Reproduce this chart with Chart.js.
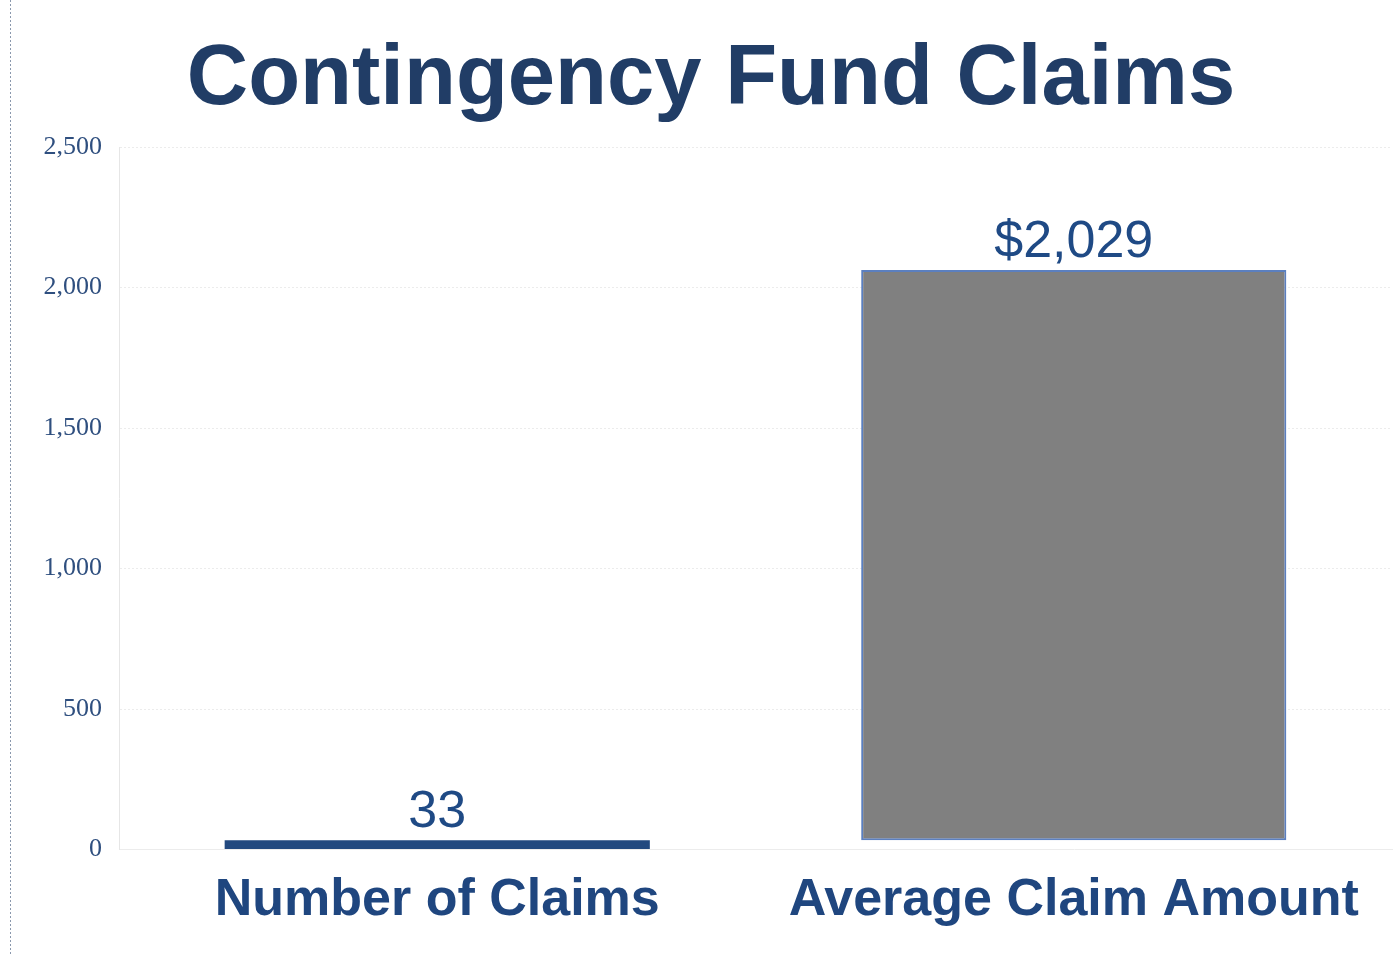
<!DOCTYPE html>
<html>
<head>
<meta charset="utf-8">
<script src="https://cdn.jsdelivr.net/npm/chart.js@4.4.1/dist/chart.umd.min.js"></script>
<style>
  html, body { margin: 0; padding: 0; background: #ffffff; }
  #wrap { width: 1393px; height: 956px; position: relative; }
</style>
</head>
<body>
<div id="wrap"><canvas id="c" width="1393" height="956"></canvas></div>
<script>
// ---- data ----
const categories = ['Number of Claims', 'Average Claim Amount'];
const values = [33, 2029];
const valueLabels = ['33', '$2,029'];
const yTicks = [0, 500, 1000, 1500, 2000, 2500];
const titleText = 'Contingency Fund Claims';

// waterfall-style floating bars: second bar starts where the first ends
const floating = [];
let run = 0;
for (let i = 0; i < values.length; i++) {
  const base = i === 0 ? 0 : run;
  floating.push([base, base + values[i]]);
  run = i === 0 ? values[i] : run;
}

const leftRule = {
  id: 'leftRule',
  beforeDraw(chart) {
    const ctx = chart.ctx;
    ctx.save();
    ctx.strokeStyle = '#8a98ad';
    ctx.lineWidth = 1;
    ctx.setLineDash([2, 2]);
    ctx.beginPath();
    ctx.moveTo(10.5, 0);
    ctx.lineTo(10.5, chart.height);
    ctx.stroke();
    ctx.restore();
  }
};

const valueLabelPlugin = {
  id: 'valueLabels',
  afterDatasetsDraw(chart) {
    const ctx = chart.ctx;
    const meta = chart.getDatasetMeta(0);
    ctx.save();
    ctx.font = '52px "Liberation Sans", Arial, sans-serif';
    ctx.fillStyle = '#1f4a85';
    ctx.textAlign = 'center';
    ctx.textBaseline = 'alphabetic';
    meta.data.forEach((bar, i) => {
      ctx.fillText(valueLabels[i], bar.x, bar.y - 13);
    });
    ctx.restore();
  }
};

new Chart(document.getElementById('c'), {
  type: 'bar',
  data: {
    labels: categories,
    datasets: [{
      data: floating,
      backgroundColor: ['#22497f', '#808080'],
      borderColor: ['#2a5490', '#5b7fbf'],
      borderWidth: [0, 2],
      borderSkipped: false,
      categoryPercentage: 1,
      barPercentage: 0.668
    }]
  },
  options: {
    responsive: false,
    animation: false,
    devicePixelRatio: 1,
    layout: { padding: { left: 30, right: 1, top: 0, bottom: 4 } },
    plugins: {
      legend: { display: false },
      tooltip: { enabled: false },
      title: {
        display: true,
        text: titleText,
        color: '#213d66',
        font: { family: '"Liberation Sans", Arial, sans-serif', size: 85, weight: 'bold', lineHeight: 1.2 },
        padding: { top: 30, bottom: 15 }
      }
    },
    scales: {
      x: {
        grid: { display: false, drawTicks: false },
        border: { display: true, color: '#ececec', dash: [2, 2] },
        ticks: {
          color: '#1f467f',
          padding: 20,
          font: { family: '"Liberation Sans", Arial, sans-serif', size: 52, weight: 'bold', lineHeight: 1.2 }
        }
      },
      y: {
        min: 0,
        max: 2500,
        afterBuildTicks(scale) { scale.ticks = yTicks.map(v => ({ value: v })); },
        afterFit(scale) { scale.width = 89; },
        grid: { color: '#ececec', drawTicks: false, tickBorderDash: [2, 2] },
        border: { display: true, color: '#e6e6e6', dash: [2, 2] },
        ticks: {
          color: '#2f4f7f',
          padding: 17,
          font: { family: '"Liberation Serif", "Times New Roman", serif', size: 26 },
          callback: v => v.toLocaleString('en-US')
        }
      }
    }
  },
  plugins: [leftRule, valueLabelPlugin]
});
</script>
</body>
</html>
